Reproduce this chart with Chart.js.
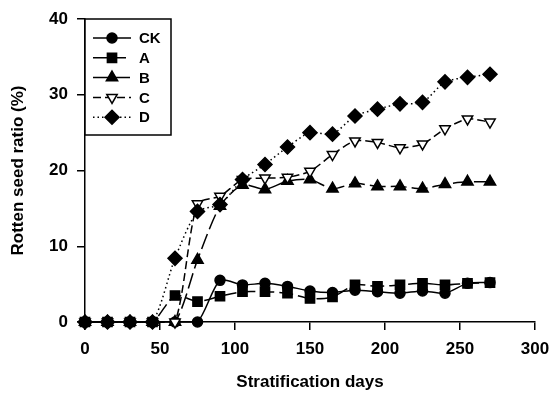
<!DOCTYPE html>
<html>
<head>
<meta charset="utf-8">
<script src="https://cdn.jsdelivr.net/npm/chart.js@4/dist/chart.umd.min.js"></script>
<style>
  html, body { margin: 0; padding: 0; background: #fff; }
  #wrap { width: 553px; height: 397px; }
</style>
</head>
<body>
<div id="wrap"><canvas id="myChart"></canvas></div>
<script>
var days = [0, 15, 30, 45, 60, 75, 90, 105, 120, 135, 150, 165, 180, 195, 210, 225, 240, 255, 270];
var seriesNames = ["CK", "A", "B", "C", "D"];
var ck = [0, 0, 0, 0, 0, 0, 5.5, 4.9, 5.1, 4.7, 4.1, 3.9, 4.2, 4.0, 3.8, 4.1, 3.8, 5.1, 5.2];
var a  = [0, 0, 0, 0, 3.5, 2.7, 3.4, 4.0, 4.0, 3.8, 3.1, 3.3, 4.9, 4.7, 4.9, 5.1, 4.9, 5.1, 5.2];
var b  = [0, 0, 0, 0, 0, 8.2, 15.3, 18.1, 17.5, 18.6, 18.8, 17.6, 18.3, 17.9, 17.9, 17.6, 18.2, 18.5, 18.5];
var c  = [0, 0, 0, 0, 0, 15.6, 16.6, 18.8, 19.0, 19.1, 19.9, 22.1, 23.9, 23.7, 23.0, 23.5, 25.5, 26.8, 26.4];
var d  = [0, 0, 0, 0, 8.4, 14.6, 15.5, 18.8, 20.8, 23.1, 25.0, 24.8, 27.2, 28.1, 28.8, 29.0, 31.7, 32.3, 32.7];
var xTicks = [0, 50, 100, 150, 200, 250, 300];
var yTicks = [0, 10, 20, 30, 40];

var FONT = "'Liberation Sans', Arial, sans-serif";

function pts(vals) {
  return days.map(function(day, i) { return { x: day, y: vals[i] }; });
}

function makeSet(label, vals, style, dash, fill, radius, rot, order) {
  return {
    label: label,
    data: pts(vals),
    borderColor: "#000",
    borderWidth: 1.5,
    borderDash: dash,
    pointStyle: style,
    pointRadius: radius,
    pointRotation: rot,
    pointBackgroundColor: fill,
    pointBorderColor: "#000",
    pointBorderWidth: 1.5,
    tension: 0.25,
    clip: false,
    order: order
  };
}

// legend drawn by hand so each entry shows line + marker like the original
var legendBox = {
  id: "legendBox",
  afterDraw: function(chart) {
    var ctx = chart.ctx;
    var x0 = 85, y0 = 19, x1 = 171, y1 = 135;
    ctx.save();
    ctx.fillStyle = "#fff";
    ctx.fillRect(x0, y0, x1 - x0, y1 - y0);
    ctx.strokeStyle = "#000";
    ctx.lineWidth = 1.5;
    ctx.strokeRect(x0, y0, x1 - x0, y1 - y0);
    chart.data.datasets.forEach(function(ds, i) {
      var y = 38 + i * 19.8;
      ctx.save();
      ctx.strokeStyle = "#000";
      ctx.lineWidth = 1.5;
      ctx.setLineDash(ds.borderDash);
      ctx.beginPath();
      ctx.moveTo(93, y);
      ctx.lineTo(131, y);
      ctx.stroke();
      ctx.restore();
      ctx.save();
      ctx.fillStyle = ds.pointBackgroundColor;
      ctx.strokeStyle = "#000";
      ctx.lineWidth = 1.5;
      Chart.helpers.drawPoint(ctx, {
        pointStyle: ds.pointStyle,
        rotation: ds.pointRotation,
        radius: ds.pointRadius,
        borderWidth: 1.5
      }, 112, y);
      ctx.restore();
      ctx.fillStyle = "#000";
      ctx.font = "bold 15px " + FONT;
      ctx.textBaseline = "middle";
      ctx.fillText(ds.label, 139, y + 1);
    });
    ctx.restore();
  }
};

var ctx = document.getElementById("myChart");
var myChart = new Chart(ctx, {
  type: "line",
  data: {
    datasets: [
      makeSet(seriesNames[0], ck, "circle", [], "#000", 5, 0, 4),
      makeSet(seriesNames[1], a, "rect", [14, 5], "#000", 6.5, 0, 3),
      makeSet(seriesNames[2], b, "triangle", [16, 5], "#000", 6.5, 0, 2),
      makeSet(seriesNames[3], c, "triangle", [8, 4], "#fff", 6, 180, 1),
      makeSet(seriesNames[4], d, "rectRot", [1.5, 3], "#000", 7, 0, 0)
    ]
  },
  options: {
    responsive: true,
    maintainAspectRatio: false,
    animation: false,
    layout: { padding: { left: 0, right: 18, top: 19, bottom: 0 } },
    plugins: {
      legend: { display: false },
      tooltip: { enabled: false }
    },
    scales: {
      x: {
        type: "linear",
        min: 0,
        max: 300,
        afterBuildTicks: function(scale) {
          scale.ticks = xTicks.map(function(v) { return { value: v }; });
        },
        afterFit: function(scale) {
          scale.height = 75;
          scale.paddingLeft = 0;
          scale.paddingRight = 0;
        },
        grid: { drawOnChartArea: false, drawTicks: true, tickLength: 8, color: "#000", lineWidth: 1.5 },
        border: { display: true, color: "#000", width: 1.5 },
        ticks: { color: "#000", font: { family: FONT, size: 17, weight: "bold" }, padding: 9, maxRotation: 0 },
        title: {
          display: true,
          text: "Stratification days",
          color: "#000",
          font: { family: FONT, size: 17, weight: "bold" },
          padding: { top: 0, bottom: 4 }
        }
      },
      y: {
        min: 0,
        max: 40,
        afterBuildTicks: function(scale) {
          scale.ticks = yTicks.map(function(v) { return { value: v }; });
        },
        afterFit: function(scale) {
          scale.width = 85;
          scale.paddingTop = 0;
          scale.paddingBottom = 0;
        },
        grid: { drawOnChartArea: false, drawTicks: true, tickLength: 8, color: "#000", lineWidth: 1.5 },
        border: { display: true, color: "#000", width: 1.5 },
        ticks: { color: "#000", font: { family: FONT, size: 17, weight: "bold" }, padding: 9 },
        title: {
          display: true,
          text: "Rotten seed ratio (%)",
          color: "#000",
          font: { family: FONT, size: 17, weight: "bold" },
          padding: { top: 8, bottom: 0 }
        }
      }
    }
  },
  plugins: [legendBox]
});
</script>
</body>
</html>
